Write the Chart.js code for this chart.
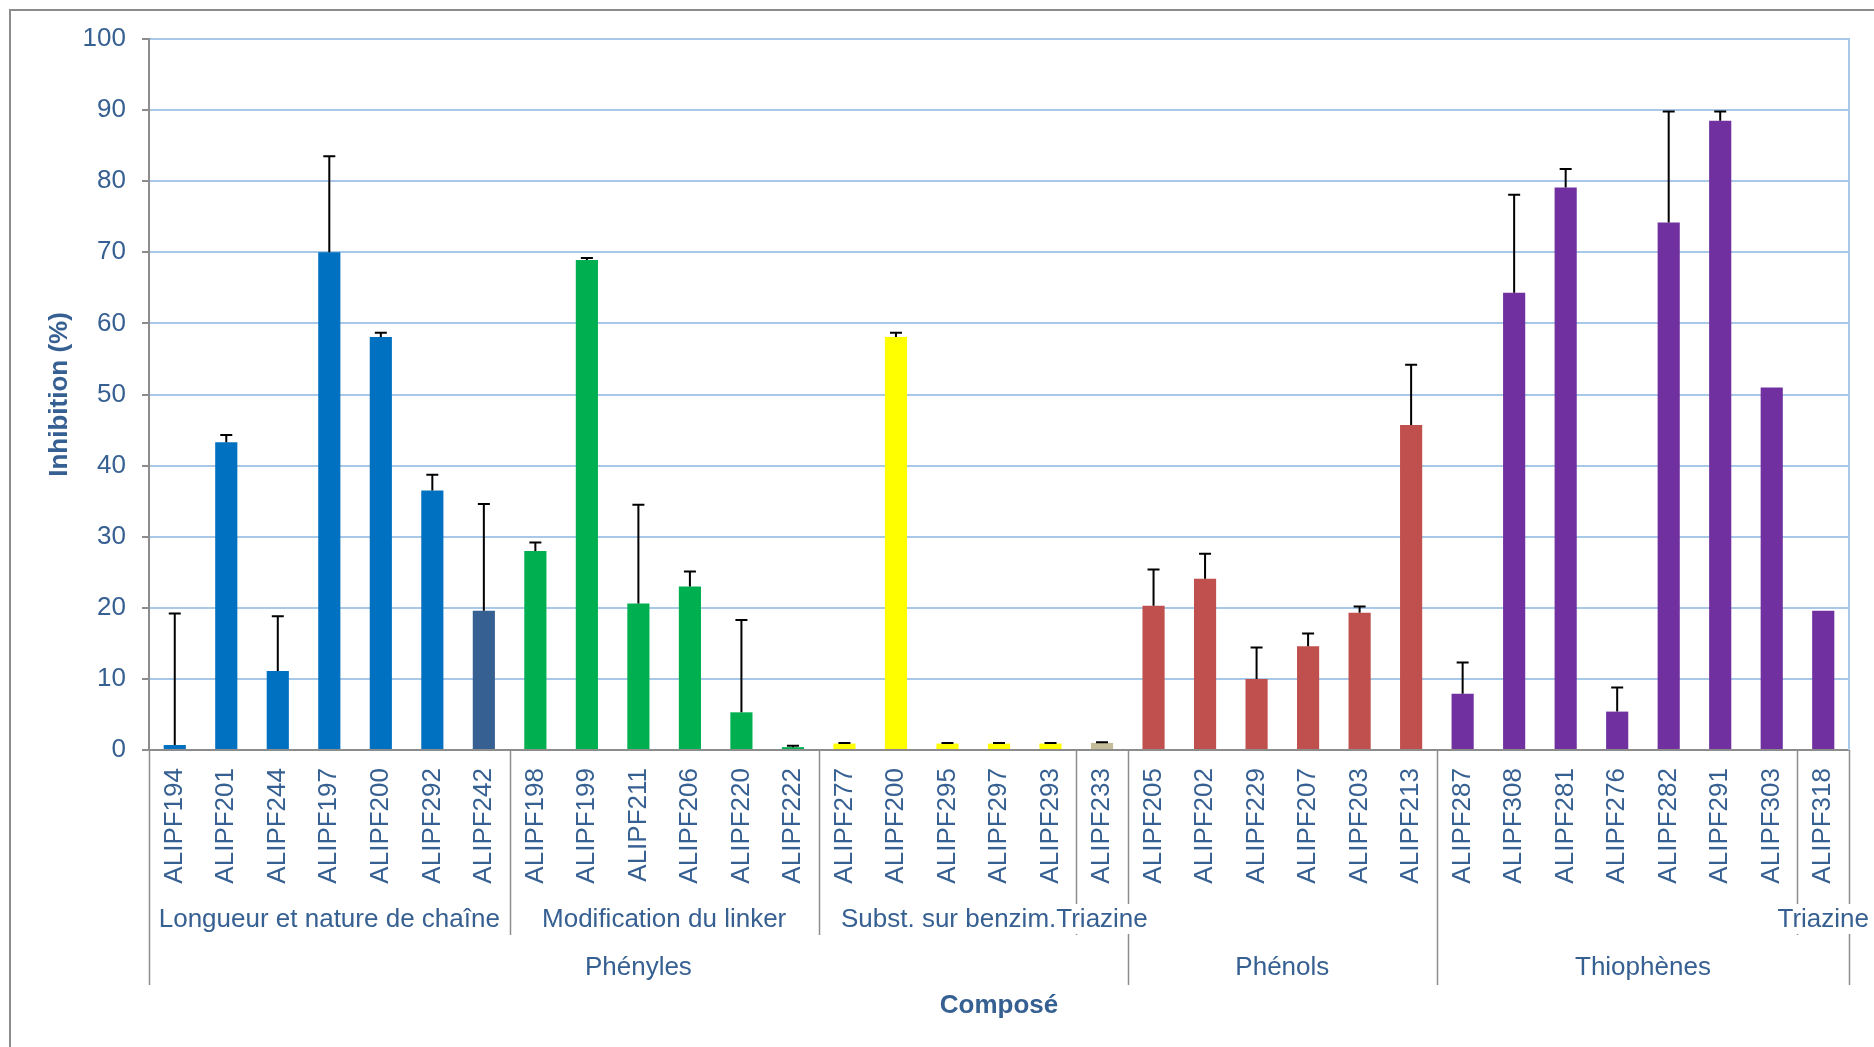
<!DOCTYPE html>
<html lang="fr">
<head>
<meta charset="UTF-8">
<title>Inhibition (%) par composé</title>
<script src="https://cdn.jsdelivr.net/npm/chart.js@4.4.1/dist/chart.umd.min.js"></script>
<style>
    html, body { margin: 0; padding: 0; background: #fff; }
    canvas { display: block; }
</style>
</head>
<body>
<canvas id="inhibitionChart" width="1874" height="1047"></canvas>
<script>
    // composés, dans l'ordre de l'axe
    const compounds = [
        'ALIPF194', 'ALIPF201', 'ALIPF244', 'ALIPF197', 'ALIPF200', 'ALIPF292', 'ALIPF242',
        'ALIPF198', 'ALIPF199', 'ALIPF211', 'ALIPF206', 'ALIPF220', 'ALIPF222',
        'ALIPF277', 'ALIPF200', 'ALIPF295', 'ALIPF297', 'ALIPF293',
        'ALIPF233',
        'ALIPF205', 'ALIPF202', 'ALIPF229', 'ALIPF207', 'ALIPF203', 'ALIPF213',
        'ALIPF287', 'ALIPF308', 'ALIPF281', 'ALIPF276', 'ALIPF282', 'ALIPF291', 'ALIPF303',
        'ALIPF318'
    ];
    const inhibition = [
        0.7, 43.3, 11.1, 70.0, 58.1, 36.5, 19.6,
        28.0, 68.9, 20.6, 23.0, 5.3, 0.4,
        0.9, 58.1, 0.9, 0.9, 0.9,
        1.0,
        20.3, 24.1, 10.0, 14.6, 19.3, 45.7,
        7.9, 64.3, 79.1, 5.4, 74.2, 88.5, 51.0,
        19.6
    ];
    // barres d'erreur (partie haute seulement)
    const errorPlus = [
        18.5, 1.0, 7.7, 13.5, 0.6, 2.2, 15.0,
        1.2, 0.3, 13.9, 2.1, 13.0, 0.2,
        0.1, 0.6, 0.1, 0.1, 0.1,
        0.1,
        5.1, 3.5, 4.4, 1.8, 0.9, 8.5,
        4.4, 13.8, 2.6, 3.4, 15.6, 1.3, null,
        null
    ];
    const subGroupLabels = ['Longueur et nature de chaîne', 'Modification du linker', 'Subst. sur benzim.', 'Triazine', '', '', 'Triazine'];
    const subGroupSizes = [7, 6, 5, 1, 6, 7, 1];
    const familyLabels = ['Phényles', 'Phénols', 'Thiophènes'];
    const familySizes = [19, 6, 8];

    const barColors = [
        '#0070C0', '#0070C0', '#0070C0', '#0070C0', '#0070C0', '#0070C0', '#376092',
        '#00B050', '#00B050', '#00B050', '#00B050', '#00B050', '#00B050',
        '#FFFF00', '#FFFF00', '#FFFF00', '#FFFF00', '#FFFF00',
        '#C4BD97',
        '#C0504D', '#C0504D', '#C0504D', '#C0504D', '#C0504D', '#C0504D',
        '#7030A0', '#7030A0', '#7030A0', '#7030A0', '#7030A0', '#7030A0', '#7030A0',
        '#7030A0'
    ];

    const FONT = "'Liberation Sans', Arial, sans-serif";
    const TEXT = '#376092';
    const AXIS = '#8C8C8C';
    const GRID = '#A8C8E8';

    // cadre gris (haut et gauche)
    const framePlugin = {
        id: 'frame',
        beforeDraw(chart) {
            const ctx = chart.ctx;
            ctx.save();
            ctx.strokeStyle = AXIS;
            ctx.lineWidth = 2;
            ctx.beginPath();
            ctx.moveTo(10, chart.height);
            ctx.lineTo(10, 10);
            ctx.lineTo(chart.width, 10);
            ctx.stroke();
            ctx.restore();
        },
        beforeDatasetsDraw(chart) {
            const { ctx, chartArea } = chart;
            ctx.save();
            ctx.strokeStyle = GRID;
            ctx.lineWidth = 2;
            ctx.beginPath();
            ctx.moveTo(chartArea.right, chartArea.top - 1);
            ctx.lineTo(chartArea.right, chartArea.bottom);
            ctx.stroke();
            ctx.restore();
        }
    };

    const errorBarPlugin = {
        id: 'errorBars',
        afterDatasetsDraw(chart) {
            const ctx = chart.ctx;
            const y = chart.scales.y;
            const meta = chart.getDatasetMeta(0);
            ctx.save();
            ctx.strokeStyle = '#000';
            ctx.lineWidth = 2;
            meta.data.forEach((bar, i) => {
                if (errorPlus[i] == null) return;
                const yTop = y.getPixelForValue(inhibition[i] + errorPlus[i]);
                const yBase = y.getPixelForValue(inhibition[i]);
                ctx.beginPath();
                ctx.moveTo(bar.x, yBase);
                ctx.lineTo(bar.x, yTop);
                ctx.moveTo(bar.x - 6, yTop);
                ctx.lineTo(bar.x + 6, yTop);
                ctx.stroke();
            });
            ctx.restore();
        }
    };

    // axe des catégories à plusieurs niveaux
    const groupAxisPlugin = {
        id: 'groupAxis',
        afterDraw(chart) {
            const ctx = chart.ctx;
            const xs = chart.scales.x;
            const area = chart.chartArea;
            const n = compounds.length;
            const edge = b => {
                if (b === 0) return area.left;
                if (b === n) return area.right;
                return (xs.getPixelForValue(b - 1) + xs.getPixelForValue(b)) / 2;
            };
            const top = xs.top;
            const row1 = top + 170, row1End = top + 185;
            const row2 = top + 218, row2End = top + 235;

            const familyEdges = [0];
            familySizes.forEach(s => familyEdges.push(familyEdges[familyEdges.length - 1] + s));
            const subEdges = [0];
            subGroupSizes.forEach(s => subEdges.push(subEdges[subEdges.length - 1] + s));

            ctx.save();
            ctx.strokeStyle = AXIS;
            ctx.lineWidth = 1.5;
            subEdges.forEach(b => {
                const x = Math.round(edge(b)) + 0.5;
                ctx.beginPath();
                ctx.moveTo(x, top);
                ctx.lineTo(x, familyEdges.includes(b) ? row2End : row1End);
                ctx.stroke();
            });

            ctx.font = '26px ' + FONT;
            ctx.textBaseline = 'middle';
            ctx.textAlign = 'left';
            // position des étiquettes du premier niveau
            const items = subGroupLabels.map((label, i) => {
                const from = subEdges[i], to = subEdges[i + 1];
                const w = ctx.measureText(label).width;
                const c = (edge(from) + edge(to)) / 2;
                return { label, w, left: c - w / 2, span: edge(to) - edge(from) };
            });
            items.forEach((it, i) => {
                const next = items[i + 1];
                if (it.label && next && next.label && next.w > next.span) {
                    it.left = next.left - it.w;
                }
            });
            items.forEach(it => {
                if (!it.label) return;
                ctx.fillStyle = '#fff';
                ctx.fillRect(it.left - 1, row1 - 16, it.w + 2, 30);
                ctx.fillStyle = TEXT;
                ctx.fillText(it.label, it.left, row1);
            });

            ctx.textAlign = 'center';
            familyLabels.forEach((label, i) => {
                const c = (edge(familyEdges[i]) + edge(familyEdges[i + 1])) / 2;
                ctx.fillStyle = TEXT;
                ctx.fillText(label, c, row2);
            });
            ctx.restore();
        }
    };

    new Chart(document.getElementById('inhibitionChart'), {
        type: 'bar',
        data: {
            labels: compounds,
            datasets: [{
                data: inhibition,
                backgroundColor: barColors,
                borderWidth: 0,
                barPercentage: 0.43,
                categoryPercentage: 1
            }]
        },
        options: {
            responsive: false,
            animation: false,
            layout: { padding: { top: 39, right: 25, left: 0, bottom: 0 } },
            plugins: {
                legend: { display: false },
                tooltip: { enabled: false }
            },
            scales: {
                x: {
                    grid: { display: false, drawTicks: false },
                    border: { color: AXIS, width: 2 },
                    ticks: {
                        autoSkip: false,
                        maxRotation: 90,
                        minRotation: 90,
                        padding: 18,
                        color: TEXT,
                        font: { family: FONT, size: 26 }
                    },
                    title: {
                        display: true,
                        text: 'Composé',
                        color: TEXT,
                        font: { family: FONT, size: 26, weight: 'bold' },
                        padding: { top: 0, bottom: 26 }
                    },
                    afterFit(scale) { scale.height = 297; }
                },
                y: {
                    min: 0,
                    max: 100,
                    ticks: {
                        stepSize: 10,
                        padding: 16,
                        color: TEXT,
                        font: { family: FONT, size: 26 }
                    },
                    grid: {
                        color: ctx => ctx.tick && ctx.tick.value === 0 ? 'rgba(0,0,0,0)' : GRID,
                        lineWidth: 2,
                        tickColor: AXIS,
                        tickLength: 7
                    },
                    border: { color: AXIS, width: 2 },
                    title: {
                        display: true,
                        text: 'Inhibition (%)',
                        color: TEXT,
                        font: { family: FONT, size: 26, weight: 'bold' },
                        padding: { top: 44, bottom: 0 }
                    },
                    afterFit(scale) { scale.width = 149; }
                }
            }
        },
        plugins: [framePlugin, errorBarPlugin, groupAxisPlugin]
    });
</script>
</body>
</html>
